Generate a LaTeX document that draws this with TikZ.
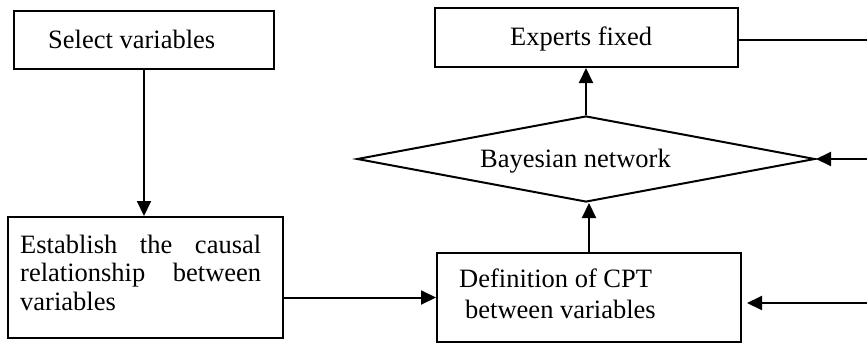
\documentclass[tikz,border=0pt]{standalone}
\usepackage{fontspec}
\setmainfont{Liberation Serif}
\usetikzlibrary{shapes.geometric,arrows.meta}
\begin{document}
\begin{tikzpicture}[x=1pt,y=-1pt,
 every node/.style={font=\fontsize{26.5}{29}\selectfont},
 box/.style={draw, line width=2pt, rectangle, inner sep=0pt},
 link/.style={line width=2pt},
 arr/.style={link, -{Triangle[length=15pt,width=14pt]}},
 txt/.style={inner sep=0pt, anchor=base west}]
\useasboundingbox (0,0) rectangle (867,343);
% boxes
\node[box, minimum width=260pt, minimum height=58pt] (sel) at (144,40) {};
\node[box, minimum width=275pt, minimum height=121pt] (est) at (145.5,277.5) {};
\node[box, minimum width=304pt, minimum height=89pt] (def) at (589,297.5) {};
\node[box, minimum width=303pt, minimum height=59pt] (exp) at (586.5,37.5) {};
\node[draw, line width=2pt, diamond, inner sep=0pt, minimum width=458pt, minimum height=86pt] (bn) at (586,159) {};
% texts
\node[txt] (seltext) at (48,48) {Select variables};
\node[txt] (exptext) at (510,45) {Experts fixed};
\node[txt] (bntext) at (480,167) {Bayesian network};
\node[txt] (est1) at (20,253) {\makebox[241pt][s]{Establish the causal}};
\node[txt] (est2) at (20,281.5) {\makebox[241pt][s]{relationship between}};
\node[txt] (est3) at (20,310) {variables};
\node[txt] (def1) at (459,287) {Definition of CPT};
\node[txt] (def2) at (465,318) {between variables};
% free ends
\coordinate (r1) at (867,40);
\coordinate (r2) at (867,159);
\coordinate (r3) at (867,303);
\coordinate (r3e) at (747,303);
% connectors
\draw[arr] (sel.south) -- (sel.south |- est.north);
\draw[arr] (est.east |- def.west) -- (def.west);
\draw[arr] (def.north) -- (def.north |- bn.south);
\draw[arr] (bn.north) -- (bn.north |- exp.south);
\draw[link] (exp.east |- r1) -- (r1);
\draw[arr] (r2) -- (bn.east);
\draw[arr] (r3) -- (r3e);
\end{tikzpicture}
\end{document}
